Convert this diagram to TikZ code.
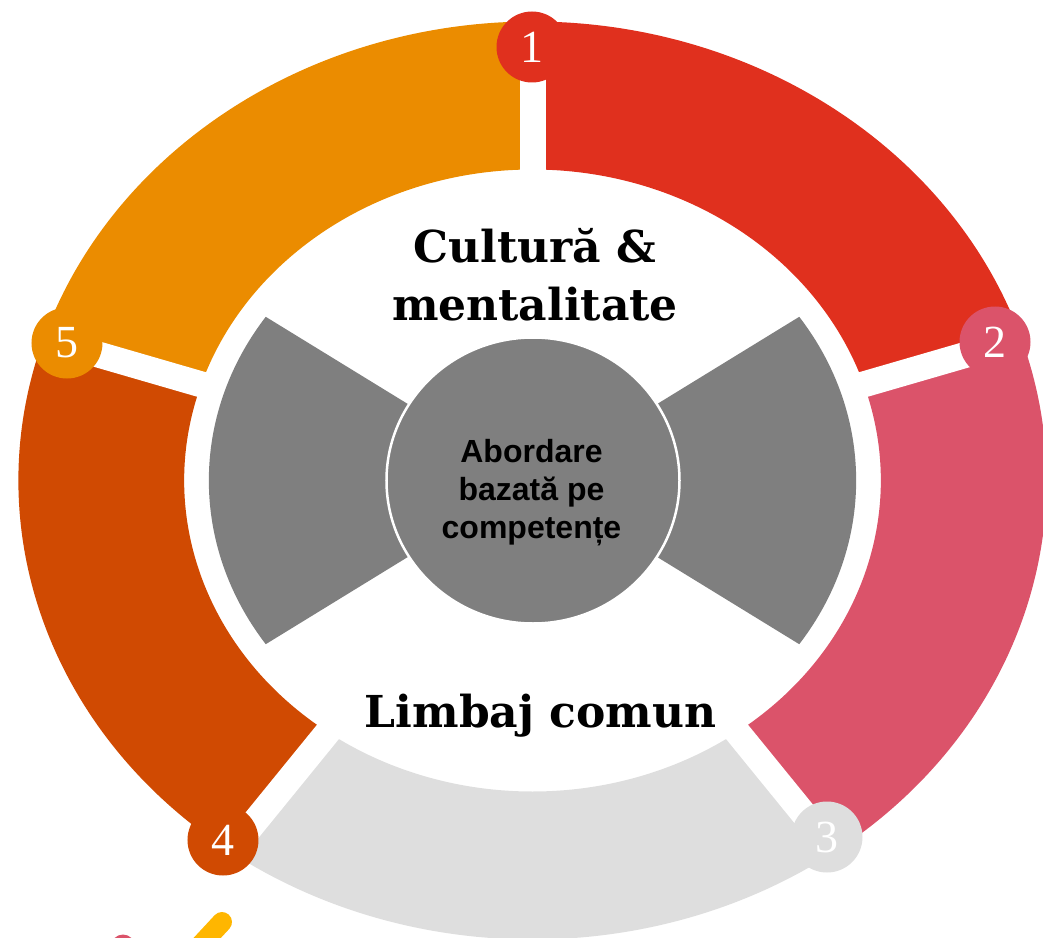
\documentclass[tikz,border=0pt]{standalone}
\usepackage{fontspec}
\setmainfont{DejaVu Serif}
\newfontfamily\numfont{Liberation Serif}
\newfontfamily\hubfont{Liberation Sans}
\usetikzlibrary{shapes.geometric}

\definecolor{segred}{HTML}{E0301E}
\definecolor{segrose}{HTML}{DB536A}
\definecolor{seggrey}{HTML}{DEDEDE}
\definecolor{segrust}{HTML}{D04A02}
\definecolor{segorange}{HTML}{EB8C00}
\definecolor{hubgrey}{HTML}{7F7F7F}
\definecolor{logoyellow}{HTML}{FFB600}

% one coloured piece of the ring: colour, start angle, end angle
\newcommand{\ringpart}[3]{%
    \fill[#1] (#2:459) arc[start angle=#2,end angle=#3,radius=459]
        -- (#3:311) arc[start angle=#3,end angle=#2,radius=311] -- cycle;}

\begin{document}
\begin{tikzpicture}[x=1pt,y=1pt,
    numdot/.style={circle,minimum size=71pt,inner sep=0pt,text=white,
        font=\numfont\fontsize{46}{46}\selectfont},
    title/.style={anchor=base,font=\bfseries\fontsize{44}{44}\selectfont}]
    \clip (-532.5,-456.5) rectangle (510.5,480.5);
    \begin{scope}[xscale=1.12]
    \ringpart{segred}{90}{18}
    \ringpart{segrose}{18}{-54}
    \ringpart{seggrey}{-54}{-126}
    \ringpart{segrust}{-126}{-198}
    \ringpart{segorange}{162}{90}
    \foreach \a in {90,18,-54,-126,162}
        \draw[white,line width=26pt] (\a:300) -- (\a:440);
    % bow tie behind the hub
    \fill[hubgrey] (0,0) -- (145.5:289) arc[start angle=145.5,end angle=214.5,radius=289] -- cycle;
    \fill[hubgrey] (0,0) -- (-34.5:289) arc[start angle=-34.5,end angle=34.5,radius=289] -- cycle;
    \end{scope}
    \node[ellipse,minimum width=293pt,minimum height=286pt,fill=hubgrey,draw=white,
        line width=2.5pt] (hub) at (0.5,0) {};
    \node[align=center,font=\hubfont\bfseries\fontsize{32}{38.3}\selectfont]
        (hubtext) at (-1,-12) {Abordare\\bazată pe\\competențe};
    \node[numdot,fill=segred] (n1) at (-0.5,433.5) {1};
    \node[numdot,fill=segrose] (n2) at (462.5,138.5) {2};
    \node[numdot,fill=seggrey] (n3) at (294.5,-356.5) {3};
    \node[numdot,fill=segrust] (n4) at (-309.5,-359.5) {4};
    \node[numdot,fill=segorange] (n5) at (-465.5,137.5) {5};
    \node[title] (culture) at (2.5,217.5) {Cultură \&};
    \node[title] (mindset) at (2.5,160.5) {mentalitate};
    \node[title] (language) at (8,-246.5) {Limbaj comun};
    % bits of the logo under the ring
    \draw[logoyellow,line width=20pt,line cap=round] (-310.5,-441.5) -- (-336.5,-469.5);
    \fill[segrose] (-409.5,-466) circle (12);
\end{tikzpicture}
\end{document}
